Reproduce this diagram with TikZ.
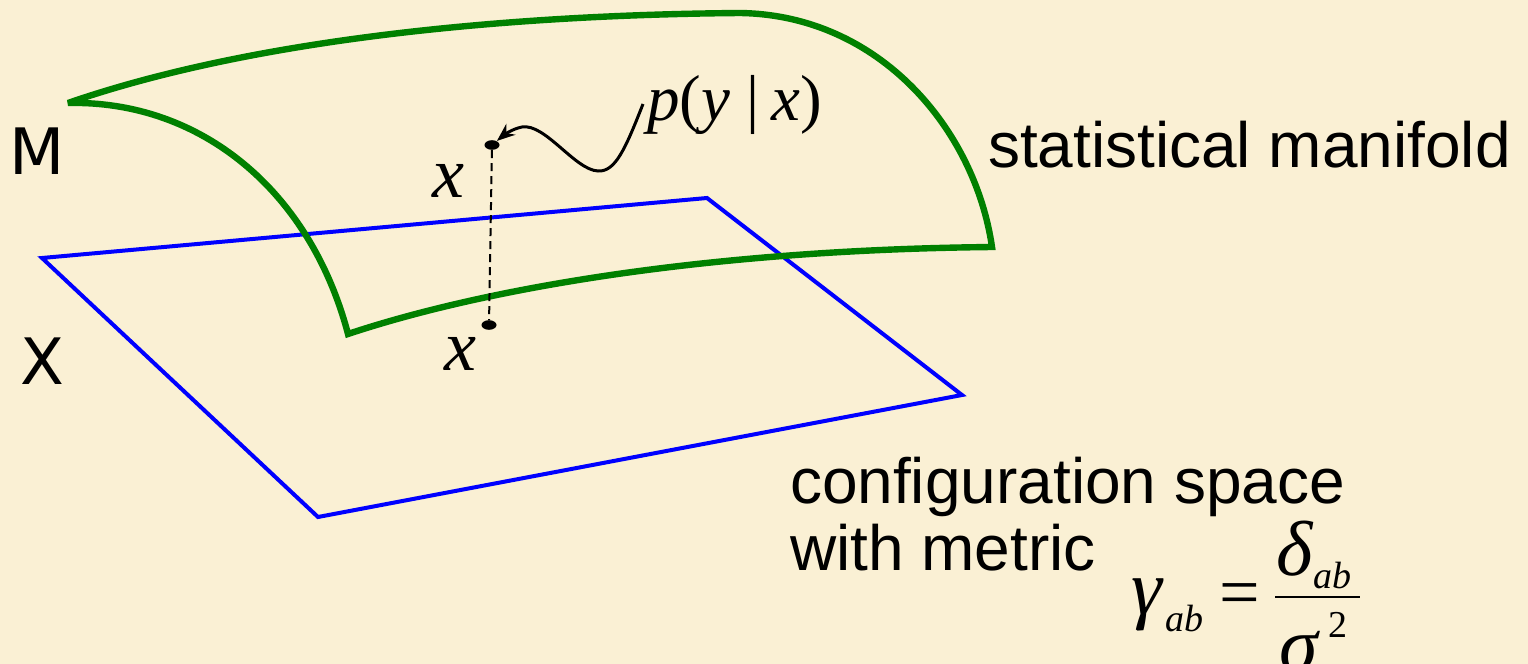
\documentclass[tikz,border=0pt]{standalone}
\usepackage{fontspec}
\setmainfont{Liberation Sans}
\newfontfamily\tms{Liberation Serif}
\newfontfamily\dvs{DejaVu Sans}
\usetikzlibrary{arrows.meta,shapes.geometric}
\definecolor{parch}{RGB}{250,240,212}
\definecolor{mgreen}{RGB}{0,128,0}
\definecolor{mblue}{RGB}{0,0,255}
\tikzset{
  surface/.style={draw=mgreen, line width=3.2pt, line join=miter, miter limit=3},
  plane/.style={draw=mblue, line width=2pt, line join=miter},
  lbl/.style={inner sep=0pt, outer sep=0pt, anchor=base west, font=\fontsize{32}{38}\selectfont},
  letter/.style={inner sep=0pt, outer sep=0pt, font=\dvs\fontsize{32}{38}\selectfont},
  varx/.style={inner sep=0pt, outer sep=0pt, font=\tms\itshape\fontsize{36}{40}\selectfont},
  mth/.style={inner sep=0pt, outer sep=0pt, anchor=base west, font=\tms\itshape\fontsize{39}{44}\selectfont},
  msub/.style={inner sep=0pt, outer sep=0pt, anchor=base west, font=\tms\itshape\fontsize{19}{22}\selectfont},
  dot/.style={shape=ellipse, fill=black, draw=none, minimum width=7.5pt, minimum height=4.8pt, inner sep=0pt},
  drop/.style={draw=black, line width=1pt, dash pattern=on 4pt off 2.5pt},
  wave/.style={draw=black, line width=1.5pt, -{Stealth[length=9pt,width=7pt]}},
}
\begin{document}
\begin{tikzpicture}[x=0.5pt, y=-0.5pt]
\fill[parch] (0,0) rectangle (1528,664);
\useasboundingbox (0,0) rectangle (1528,664);

% configuration space X
\coordinate (p1) at (42,258);
\coordinate (p2) at (707,198);
\coordinate (p3) at (962,395);
\coordinate (p4) at (318,517);
\draw[plane] (p1) -- (p2) -- (p3) -- (p4) -- cycle;

% statistical manifold M
\coordinate (mA) at (68,103);
\coordinate (mT) at (740,13);
\coordinate (mR) at (992,247);
\coordinate (mB) at (348,334);
\draw[surface] (mA) .. controls (250,40) and (500,15) .. (mT)
  .. controls (880,15) and (975,130) .. (mR)
  .. controls (700,250) and (480,290) .. (mB)
  .. controls (310,190) and (200,100) .. cycle;

% points and labels
\node[dot] (d1) at (492,145) {};
\node[dot] (d2) at (489,325) {};
\draw[drop] (d1) -- (d2);
\node[varx] (x1) at (448,181) {x};
\node[varx] (x2) at (460,354) {x};

\node[inner sep=0pt, anchor=base west, font=\tms\fontsize{32.5}{36}\selectfont] (pyx) at (647,120) {\textit{p}(\textit{y}\hspace{8pt}|\hspace{6pt}\textit{x})};
\coordinate (ws) at (643,104);
\draw[wave] (ws) .. controls (625,150) and (615,172) .. (598,171)
  .. controls (575,170) and (545,123) .. (522,127)
  .. controls (512,129) and (504,135) .. (d1);

\node[letter] (M) at (37.5,151.5) {M};
\node[letter] (X) at (42.5,361) {X};

\node[lbl] (sm) at (988,167) {statistical manifold};
\node[lbl] (cs) at (790,503) {configuration space};
\node[lbl] (wm) at (790,570) {with metric};

% metric formula
\node[mth] (g) at (1131,614) {γ};
\node[msub] (gs) at (1165,631) {ab};
\node[inner sep=0pt, anchor=base west, font=\tms\fontsize{36}{40}\selectfont] (eq) at (1219,616) {=};
\coordinate (fb1) at (1275,597);
\coordinate (fb2) at (1360,597);
\draw[line width=1.3pt] (fb1) -- (fb2);
\node[mth] (dl) at (1276,575) {δ};
\node[msub] (dls) at (1313,588) {ab};
\node[mth] (sg) at (1279,671) {σ};
\node[inner sep=0pt, anchor=base west, font=\tms\fontsize{19}{22}\selectfont] (two) at (1328,637) {2};
\end{tikzpicture}
\end{document}
